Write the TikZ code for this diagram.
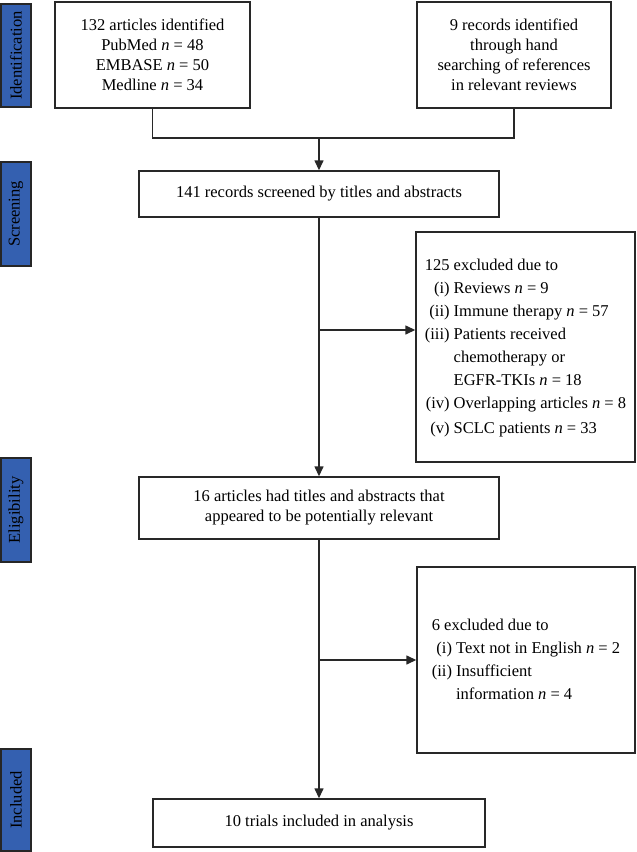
\documentclass[tikz,border=0pt]{standalone}
\usepackage{fontspec}
\setmainfont{Liberation Serif}
\usetikzlibrary{arrows.meta}
\definecolor{sidebar}{RGB}{52,96,176}
\definecolor{edge}{RGB}{40,40,40}
\newcommand{\nn}{\textit{n}}
\begin{document}
\begin{tikzpicture}[x=1pt,y=-1pt,
  every node/.style={font=\fontsize{16.5}{20}\selectfont},
  box/.style={draw=edge,line width=1.4pt,fill=white,align=center,inner sep=0pt},
  side/.style={draw=black!85,line width=1.4pt,fill=sidebar,minimum width=30pt,inner sep=0pt,rotate=90},
  conn/.style={draw=edge,line width=1.4pt},
  arr/.style={conn,-{Triangle[length=10pt,width=9pt]}}]
\useasboundingbox (0,0) rectangle (637,852);

% sidebars
\node[side,minimum width=103pt,minimum height=30pt] (sid) at (16,55.5) {Identification};
\node[side,minimum width=104pt,minimum height=30pt] (sscr) at (16,214) {Screening};
\node[side,minimum width=104pt,minimum height=30pt] (selig) at (16,510) {Eligibility};
\node[side,minimum width=102pt,minimum height=30pt] (sinc) at (16,800) {Included};

% boxes
\node[box,minimum width=195pt,minimum height=106pt] (L) at (152.5,55)
  {132 articles identified\\PubMed \nn{} = 48\\EMBASE \nn{} = 50\\Medline \nn{} = 34};
\node[box,minimum width=194pt,minimum height=106pt] (R) at (514,55)
  {9 records identified\\through hand\\searching of references\\in relevant reviews};
\node[box,minimum width=360pt,minimum height=46pt] (S) at (319,194)
  {141 records screened by titles and abstracts};
\node[box,minimum width=219pt,minimum height=230pt,align=left] (X1) at (525.5,347)
  {\renewcommand{\arraystretch}{1.15}\begin{tabular}{@{}r@{\ }l@{}}
   \multicolumn{2}{@{}l@{}}{125 excluded due to}\\
   (i) & Reviews \nn{} = 9\\
   (ii) & Immune therapy \nn{} = 57\\
   (iii) & Patients received\\
         & chemotherapy or\\
         & EGFR-TKIs \nn{} = 18\\
   (iv) & Overlapping articles \nn{} = 8\\[2pt]
   (v) & SCLC patients \nn{} = 33
  \end{tabular}};
\node[box,minimum width=360pt,minimum height=62pt] (E) at (319,508)
  {16 articles had titles and abstracts that\\appeared to be potentially relevant};
\node[box,minimum width=218pt,minimum height=186pt,align=left] (X2) at (526,660)
  {\renewcommand{\arraystretch}{1.15}\begin{tabular}{@{}r@{\ }l@{}}
   \multicolumn{2}{@{}l@{}}{6 excluded due to}\\
   (i) & Text not in English \nn{} = 2\\
   (ii) & Insufficient\\
        & information \nn{} = 4
  \end{tabular}};
\node[box,minimum width=332pt,minimum height=48pt] (I) at (319,823)
  {10 trials included in analysis};

% connectors
\coordinate (J) at (319,138);
\coordinate (B1) at (319,330);
\coordinate (B2) at (319,660);
\draw[conn] (L.south) |- (J) -| (R.south);
\draw[arr] (J) -- (S.north);
\draw[arr] (S.south) -- (E.north);
\draw[arr] (B1) -- (B1 -| X1.west);
\draw[arr] (E.south) -- (I.north);
\draw[arr] (B2) -- (B2 -| X2.west);
\end{tikzpicture}
\end{document}
